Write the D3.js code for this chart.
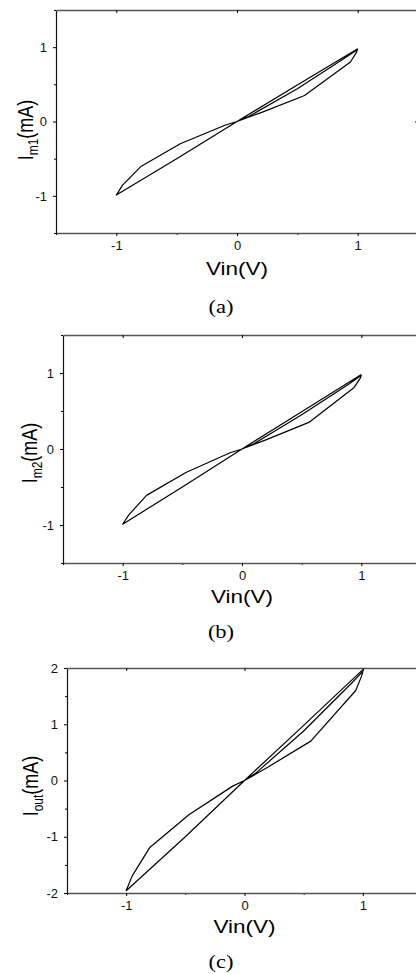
<!DOCTYPE html>
<html>
<head>
<meta charset="utf-8">
<script src="https://cdn.jsdelivr.net/npm/d3@7"></script>
<style>
  html, body { margin: 0; padding: 0; background: #fff; overflow: hidden; }
  svg { display: block; }
  .tick text { font-family: "Liberation Sans", Arial, sans-serif; font-size: 13px; fill: #111; }
</style>
</head>
<body>
<svg id="fig" width="416" height="974"></svg>
<script>
// loop trajectory: middle branch up, bent branch down, negative bent, straight back, top straight up
var vin  = [0, 0.1, 0.5, 0.9, 1.0, 0.99, 0.94, 0.56, 0.2, 0, -0.1, -0.47, -0.8, -0.95, -1.0, -0.5, 0, 0.5, 1.0];
var im1  = [0, 0.07, 0.44, 0.86, 0.97, 0.93, 0.80, 0.35, 0.12, 0, -0.05, -0.30, -0.61, -0.86, -0.99, -0.50, 0, 0.49, 0.98];
var im2  = [0, 0.07, 0.45, 0.86, 0.97, 0.93, 0.81, 0.35, 0.12, 0, -0.05, -0.31, -0.61, -0.87, -0.99, -0.50, 0, 0.49, 0.98];
var iout = [0, 0.14, 0.88, 1.72, 1.94, 1.86, 1.60, 0.70, 0.24, 0, -0.10, -0.61, -1.19, -1.70, -1.96, -1.00, 0, 0.98, 1.97];

var xMajor = [-1, 0, 1];
var xMinor = [-1.5, -0.5, 0.5, 1.5];
var yMajorAB = [-1, 0, 1];
var yMinorAB = [-1.5, -0.5, 0.5, 1.5];
var yMajorC = [-2, -1, 0, 1, 2];
var yMinorC = [-1.5, -0.5, 0.5, 1.5];

var svg = d3.select("#fig");
var stretch = 1.25; // the source figure is widened a bit

function panel(p) {
	var x = d3.scaleLinear().domain([-1.5, 1.5]).range([p.left, p.right]);
	var y = d3.scaleLinear().domain(p.ydom).range([p.bottom, p.top]);
	var g = svg.append("g");

	// minor ticks
	g.append("g").attr("transform", "translate(0," + p.bottom + ")")
		.call(d3.axisBottom(x).tickValues(xMinor).tickFormat("").tickSize(2))
		.call(function(s){ s.select(".domain").remove(); });
	g.append("g").attr("transform", "translate(" + p.left + ",0)")
		.call(d3.axisLeft(y).tickValues(p.yMinor).tickFormat("").tickSize(2))
		.call(function(s){ s.select(".domain").remove(); });

	// major axes
	var bx = g.append("g").attr("transform", "translate(0," + p.bottom + ")")
		.call(d3.axisBottom(x).tickValues(xMajor).tickSize(3).tickPadding(5).tickSizeOuter(0));
	bx.select(".domain").attr("stroke", "#555").attr("stroke-width", 1.6);
	var ly = g.append("g").attr("transform", "translate(" + p.left + ",0)")
		.call(d3.axisLeft(y).tickValues(p.yMajor).tickSize(3).tickPadding(6).tickSizeOuter(0));
	ly.select(".domain").attr("stroke", "#111").attr("stroke-width", 1.2);
	ly.selectAll(".tick text").text(function(d){ return d < 0 ? "-" + Math.abs(d) : d; });
	bx.selectAll(".tick text").text(function(d){ return d < 0 ? "-" + Math.abs(d) : d; });

	// mirror axes (top and right), right one sits just past the edge
	var tx = g.append("g").attr("transform", "translate(0," + p.top + ")")
		.call(d3.axisBottom(x).tickValues(xMajor).tickFormat("").tickSize(3).tickSizeOuter(0));
	tx.select(".domain").attr("stroke", "#555").attr("stroke-width", 1.6);
	g.append("g").attr("transform", "translate(" + p.right + ",0)")
		.call(d3.axisLeft(y).tickValues([0]).tickFormat("").tickSize(3).tickSizeOuter(0))
		.call(function(s){ s.select(".domain").remove(); });

	// curve
	var pts = vin.map(function(v, i){ return [v, p.vals[i]]; });
	var line = d3.line().x(function(d){ return x(d[0]); }).y(function(d){ return y(d[1]); });
	g.append("path").datum(pts).attr("d", line)
		.attr("fill", "none").attr("stroke", "#000").attr("stroke-width", 1.2)
		.attr("stroke-linejoin", "round");

	// x label
	g.append("text")
		.attr("transform", "translate(" + x(0) + "," + p.xlabY + ") scale(" + stretch + ",1)")
		.attr("text-anchor", "middle")
		.style("font-family", "Liberation Sans, Arial, sans-serif").style("font-size", "18px")
		.text("Vin(V)");

	// y label
	var yl = g.append("text")
		.attr("transform", "translate(" + p.ylabX + "," + p.ylabY + ") scale(" + stretch + ",1) rotate(-90)")
		.attr("text-anchor", "middle")
		.style("font-family", "Liberation Sans, Arial, sans-serif").style("font-size", "18px");
	yl.append("tspan").text("I");
	yl.append("tspan").attr("dy", 4).style("font-size", "12px").text(p.sub);
	yl.append("tspan").attr("dy", -4).text("(mA)");

	// caption
	g.append("text")
		.attr("transform", "translate(221," + p.capY + ") scale(" + stretch + ",1)")
		.attr("text-anchor", "middle")
		.style("font-family", "Liberation Serif, Times New Roman, serif").style("font-size", "18px")
		.text(p.cap);
}

panel({ left: 56, right: 418, top: 10, bottom: 233, ydom: [-1.5, 1.5], yMajor: yMajorAB, yMinor: yMinorAB,
	vals: im1, sub: "m1", xlabY: 275, ylabX: 33, ylabY: 130, capY: 313, cap: "(a)" });
panel({ left: 63, right: 421, top: 335, bottom: 563, ydom: [-1.5, 1.5], yMajor: yMajorAB, yMinor: yMinorAB,
	vals: im2, sub: "m2", xlabY: 603, ylabX: 37, ylabY: 453, capY: 638, cap: "(b)" });
panel({ left: 67, right: 422, top: 668, bottom: 893, ydom: [-2, 2], yMajor: yMajorC, yMinor: yMinorC,
	vals: iout, sub: "out", xlabY: 933, ylabX: 38, ylabY: 786, capY: 968, cap: "(c)" });
</script>
</body>
</html>
